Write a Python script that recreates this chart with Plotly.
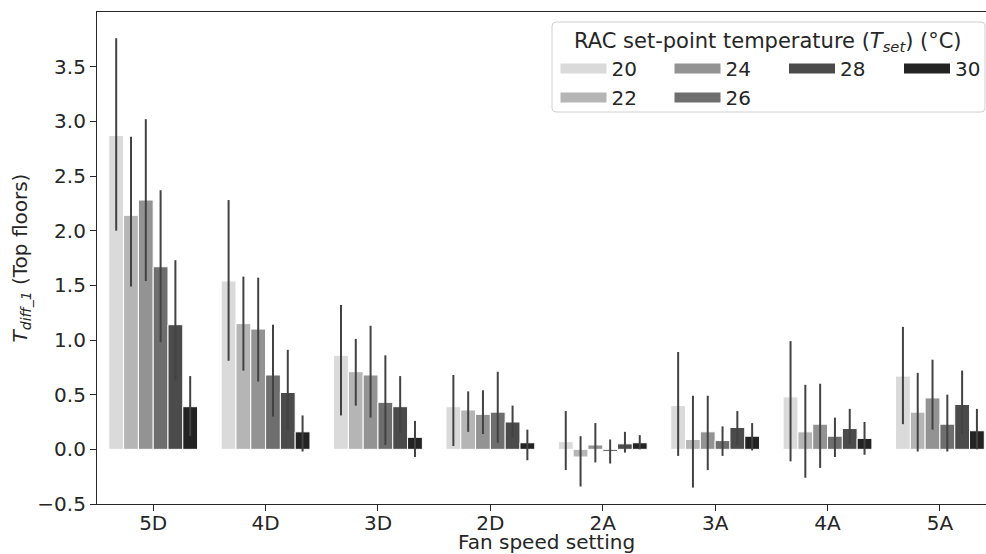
import plotly.graph_objects as go

# ---------------- data ----------------
categories = ["5D", "4D", "3D", "2D", "2A", "3A", "4A", "5A"]
set_points = ["20", "22", "24", "26", "28", "30"]

mean_20 = [2.87, 1.54, 0.86, 0.39, 0.07, 0.40, 0.48, 0.67]
mean_22 = [2.14, 1.15, 0.71, 0.36, -0.07, 0.09, 0.16, 0.34]
mean_24 = [2.28, 1.10, 0.68, 0.32, 0.04, 0.16, 0.23, 0.47]
mean_26 = [1.67, 0.68, 0.43, 0.34, -0.02, 0.08, 0.12, 0.23]
mean_28 = [1.14, 0.52, 0.39, 0.25, 0.05, 0.20, 0.19, 0.41]
mean_30 = [0.39, 0.16, 0.11, 0.06, 0.06, 0.12, 0.10, 0.17]

upper_20 = [3.76, 2.28, 1.32, 0.68, 0.35, 0.89, 0.99, 1.12]
upper_22 = [2.86, 1.58, 1.01, 0.53, 0.12, 0.49, 0.59, 0.70]
upper_24 = [3.02, 1.57, 1.13, 0.54, 0.24, 0.49, 0.60, 0.82]
upper_26 = [2.37, 1.14, 0.86, 0.71, 0.09, 0.21, 0.29, 0.50]
upper_28 = [1.73, 0.91, 0.67, 0.40, 0.16, 0.35, 0.37, 0.72]
upper_30 = [0.67, 0.31, 0.26, 0.18, 0.13, 0.24, 0.25, 0.37]

lower_20 = [2.00, 0.81, 0.31, 0.03, -0.19, -0.06, -0.11, 0.23]
lower_22 = [1.49, 0.72, 0.40, 0.16, -0.34, -0.35, -0.26, -0.02]
lower_24 = [1.54, 0.62, 0.29, 0.14, -0.12, -0.19, -0.17, 0.18]
lower_26 = [0.98, 0.30, 0.04, 0.06, -0.13, -0.06, -0.07, -0.02]
lower_28 = [0.63, 0.17, 0.15, 0.11, -0.03, 0.04, 0.05, 0.14]
lower_30 = [0.12, -0.02, -0.07, -0.10, 0.00, -0.01, -0.05, 0.00]

means = [mean_20, mean_22, mean_24, mean_26, mean_28, mean_30]
uppers = [upper_20, upper_22, upper_24, upper_26, upper_28, upper_30]
lowers = [lower_20, lower_22, lower_24, lower_26, lower_28, lower_30]

colors = ["#dadada", "#b5b5b5", "#939393", "#6e6e6e", "#4b4b4b", "#232323"]
# legend laid out in columns, as in the original: (20, 22) (24, 26) (28) (30)
legend_of = ["legend", "legend", "legend2", "legend2", "legend3", "legend4"]

FONT = "DejaVu Sans"
FS = 20
TXT = "#262626"

fig = go.Figure()
for sp, m, hi, lo, c in zip(set_points, means, uppers, lowers, colors):
    fig.add_trace(go.Bar(
        x=categories, y=m, name=sp, showlegend=False,
        marker=dict(color=c, line=dict(color="white", width=1)),
        error_y=dict(type="data", symmetric=False,
                     array=[h - v for h, v in zip(hi, m)],
                     arrayminus=[v - l for v, l in zip(m, lo)],
                     color="#424242", thickness=2, width=0),
    ))

# legend proxies (wide rectangles like the original legend handles)
for i, (sp, c, lg) in enumerate(zip(set_points, colors, legend_of)):
    fig.add_trace(go.Scatter(
        x=[None], y=[None], mode="lines", name=sp,
        line=dict(color=c, width=10), legend=lg, legendrank=i,
        hoverinfo="skip",
    ))

W, H = 986, 554
ML, MR, MT, MB = 97, 0, 12, 50
PW, PH = W - ML - MR, H - MT - MB


def px_x(p):
    return (p - ML) / PW


def px_y(p):
    return (H - MB - p) / PH


# legend frame
x0, x1, y0, y1 = px_x(552), px_x(985), px_y(112), px_y(22)
rx, ry = 4 / PW, 4 / PH
path = (f"M{x0+rx},{y0} L{x1-rx},{y0} Q{x1},{y0} {x1},{y0+ry} "
        f"L{x1},{y1-ry} Q{x1},{y1} {x1-rx},{y1} L{x0+rx},{y1} "
        f"Q{x0},{y1} {x0},{y1-ry} L{x0},{y0+ry} Q{x0},{y0} {x0+rx},{y0} Z")
fig.add_shape(type="path", path=path, xref="paper", yref="paper",
              line=dict(color="#d0d0d0", width=1),
              fillcolor="rgba(255,255,255,0.8)", layer="above")

# legend title
fig.add_annotation(text="RAC set-point temperature (<i>T</i><sub><i>set</i></sub>) (°C)",
                   xref="paper", yref="paper", x=px_x(768), y=px_y(42),
                   xanchor="center", yanchor="middle", showarrow=False,
                   font=dict(family=FONT, size=21, color=TXT))

# x-axis title
fig.add_annotation(text="Fan speed setting",
                   xref="paper", yref="paper", x=px_x(546), y=px_y(542),
                   xanchor="center", yanchor="middle", showarrow=False,
                   font=dict(family=FONT, size=FS, color=TXT))

leg_common = dict(orientation="v", xanchor="left", yanchor="top",
                  bgcolor="rgba(0,0,0,0)", borderwidth=0,
                  font=dict(family=FONT, size=FS, color=TXT),
                  itemwidth=46, tracegroupgap=0, y=px_y(49))

fig.update_layout(
    width=W, height=H,
    margin=dict(l=ML, r=MR, t=MT, b=MB, autoexpand=False),
    paper_bgcolor="white", plot_bgcolor="white",
    barmode="group", bargap=0.21, bargroupgap=0,
    font=dict(family=FONT, size=FS, color=TXT),
    legend=dict(**leg_common, x=px_x(555.5)),
    legend2=dict(**leg_common, x=px_x(669.5)),
    legend3=dict(**leg_common, x=px_x(784)),
    legend4=dict(**leg_common, x=px_x(899)),
    xaxis=dict(type="category", range=[-0.5, 7.41], automargin=False,
               showline=True, linecolor=TXT, linewidth=1.25, mirror=True,
               ticks="outside", ticklen=6, tickwidth=1.25, tickcolor=TXT,
               ticklabelstandoff=-5,
               showgrid=False, zeroline=False,
               tickfont=dict(family=FONT, size=FS, color=TXT)),
    yaxis=dict(range=[-0.5, 4.0], tickmode="array", automargin=False,
               tickvals=[-0.5, 0.0, 0.5, 1.0, 1.5, 2.0, 2.5, 3.0, 3.5],
               tickformat=".1f",
               showline=True, linecolor=TXT, linewidth=1.25, mirror=False,
               ticks="outside", ticklen=6, tickwidth=1.25, tickcolor=TXT,
               showgrid=False, zeroline=False,
               tickfont=dict(family=FONT, size=FS, color=TXT),
               title=dict(text="<i>T</i><sub><i>diff_1</i></sub> (Top floors)", standoff=4,
                          font=dict(family=FONT, size=FS, color=TXT))),
)

fig.write_html("out.html")
